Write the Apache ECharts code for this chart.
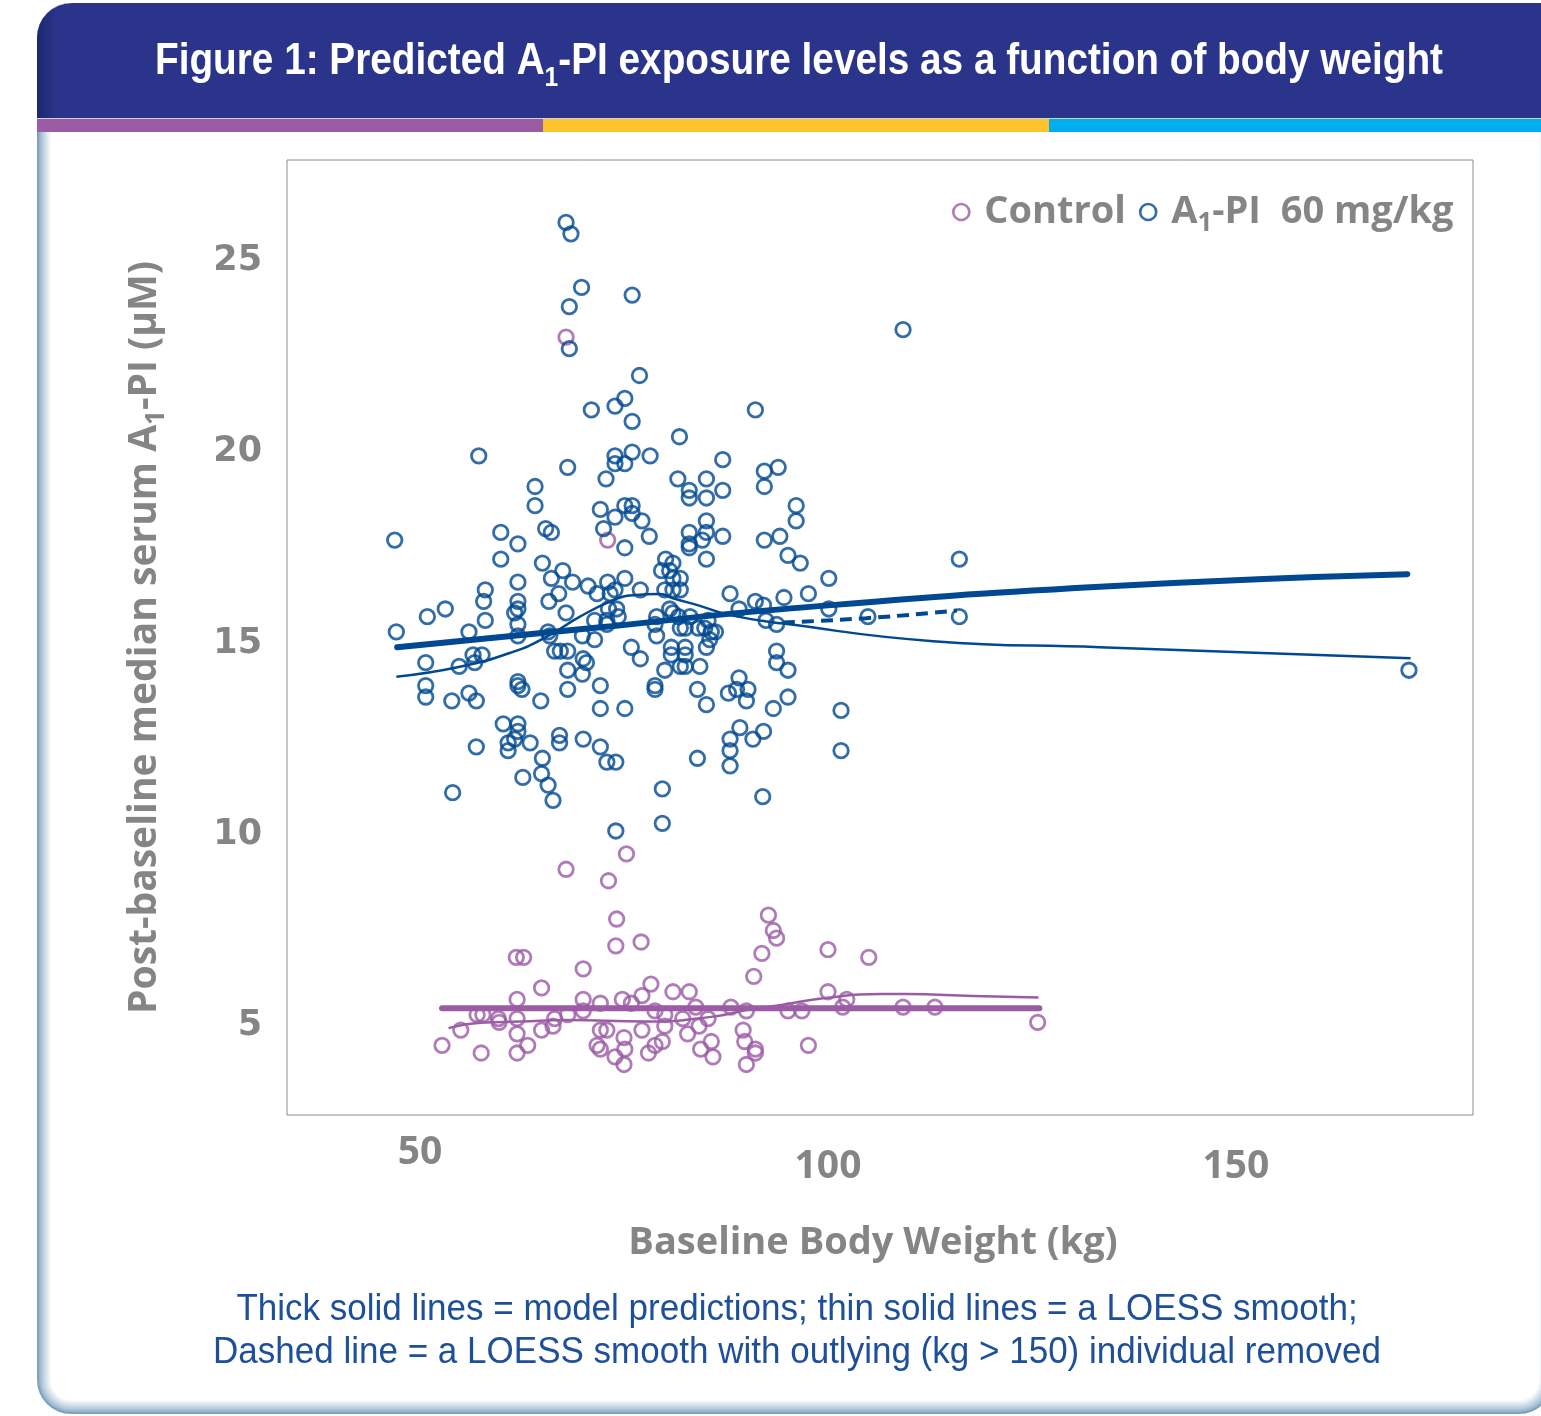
<!DOCTYPE html>
<html><head><meta charset="utf-8">
<script src="https://cdn.jsdelivr.net/npm/echarts@6/dist/echarts.min.js"></script>
<style>html,body{margin:0;padding:0;background:#fff;}#chart{width:1541px;height:1416px;}</style>
</head><body><div id="chart"></div>
<script>
// ---------- data (kg, µM) ----------
const xTicks = [50, 100, 150];
const yTicks = [5, 10, 15, 20, 25];

const controlPoints = [
[67.9,23.0],[73.0,17.7],[67.9,9.1],[75.3,9.5],[73.1,8.8],[74.1,7.8],[74.0,7.1],[77.1,7.2],[61.8,6.8],[62.7,6.8],
[70.0,6.5],[64.9,6.0],[78.3,6.1],[81.0,5.9],[83.0,5.9],[61.9,5.7],[70.0,5.7],[72.1,5.6],[74.8,5.7],[75.9,5.6],
[77.2,5.8],[78.8,5.4],[80.0,5.3],[83.8,5.5],[85.3,5.2],[88.1,5.5],[90.0,5.4],[57.0,5.3],[57.7,5.3],[59.6,5.2],
[59.7,5.1],[61.9,5.2],[66.5,5.2],[66.3,5.0],[68.1,5.3],[70.0,5.4],[55.0,4.9],[64.9,4.9],[61.9,4.8],[72.1,4.9],
[72.9,4.9],[77.2,4.9],[80.0,5.0],[82.2,5.2],[84.2,5.0],[89.6,4.9],[52.7,4.5],[57.5,4.3],[61.9,4.3],[63.2,4.5],
[71.7,4.5],[72.1,4.4],[75.0,4.7],[75.1,4.4],[73.9,4.2],[75.0,4.0],[78.0,4.3],[78.8,4.5],[79.7,4.6],[82.8,4.8],
[84.4,4.4],[85.7,4.6],[85.9,4.2],[89.8,4.6],[91.1,4.4],[91.1,4.3],[90.0,4.0],[92.7,7.9],[93.3,7.5],[93.7,7.3],
[91.9,6.9],[90.9,6.3],[100.0,7.0],[105.0,6.8],[100.0,5.9],[102.3,5.7],[101.8,5.5],[109.2,5.5],[113.1,5.5],[125.7,5.1],
[95.1,5.4],[96.8,5.4],[97.6,4.5]
];

const a1piPoints = [
[67.9,26.0],[68.5,25.7],[69.8,24.3],[76.0,24.1],[68.3,23.8],[68.3,22.7],[76.9,22.0],[75.1,21.4],[73.9,21.2],[71.0,21.1],
[91.1,21.1],[76.0,20.8],[81.8,20.4],[57.2,19.9],[68.1,19.6],[73.9,19.9],[76.0,20.0],[73.9,19.7],[75.1,19.7],[78.2,19.9],
[72.8,19.3],[81.6,19.3],[87.1,19.8],[85.1,19.3],[83.0,19.0],[83.0,18.8],[85.1,18.8],[87.1,19.0],[92.2,19.5],[92.2,19.1],
[93.9,19.6],[64.1,19.1],[64.1,18.6],[75.1,18.6],[76.0,18.6],[72.1,18.5],[73.9,18.3],[76.0,18.4],[77.2,18.2],[85.1,18.2],
[65.4,18.0],[66.1,17.9],[59.9,17.9],[46.9,17.7],[62.0,17.6],[72.5,18.0],[78.1,17.8],[83.0,17.9],[85.1,17.9],[84.6,17.7],
[87.1,17.8],[92.2,17.7],[94.1,17.8],[75.1,17.5],[83.0,17.6],[83.0,17.5],[85.1,17.2],[59.9,17.2],[65.0,17.1],[67.5,16.9],
[66.1,16.7],[68.7,16.6],[62.0,16.6],[70.6,16.5],[73.0,16.6],[75.1,16.7],[77.0,16.4],[80.1,17.2],[81.0,17.1],[79.6,16.9],
[80.6,16.9],[81.0,16.7],[81.9,16.7],[80.0,16.4],[81.0,16.4],[81.9,16.4],[88.0,16.3],[91.1,16.1],[92.1,16.0],[94.6,16.2],
[58.0,16.4],[57.8,16.1],[53.1,15.9],[50.9,15.7],[47.1,15.3],[58.0,15.6],[62.0,16.1],[62.0,15.9],[61.6,15.8],[65.8,16.1],
[67.0,16.3],[67.9,15.8],[71.7,16.3],[73.3,16.3],[73.9,16.4],[73.1,15.9],[74.1,15.9],[74.3,15.7],[72.9,15.6],[71.4,15.6],
[72.9,15.5],[56.0,15.3],[62.0,15.5],[62.0,15.2],[65.7,15.3],[65.9,15.2],[69.9,15.2],[71.4,15.1],[75.9,14.9],[77.0,14.6],
[79.0,15.7],[78.8,15.5],[79.0,15.2],[80.6,15.9],[81.0,15.8],[81.7,15.7],[83.1,15.7],[81.9,15.4],[82.5,15.4],[84.1,15.4],
[85.3,15.6],[84.9,15.4],[85.7,15.3],[86.2,15.3],[85.5,15.1],[85.1,14.9],[80.8,14.9],[80.8,14.7],[82.5,14.9],[82.5,14.7],
[81.9,14.4],[82.5,14.4],[84.3,14.4],[80.0,14.3],[93.7,14.8],[93.7,14.5],[56.5,14.7],[57.6,14.7],[56.7,14.5],[50.7,14.5],
[54.8,14.4],[50.7,13.9],[50.7,13.6],[53.9,13.5],[56.0,13.7],[56.9,13.5],[62.0,14.0],[62.0,13.9],[62.5,13.8],[64.8,13.5],
[66.5,14.8],[67.2,14.8],[68.1,14.8],[70.0,14.6],[70.4,14.5],[69.9,14.2],[68.1,14.3],[68.1,13.8],[72.1,13.9],[78.8,13.9],
[78.8,13.8],[84.0,13.8],[85.1,13.4],[87.8,13.7],[89.1,14.1],[90.2,13.8],[90.0,13.5],[93.3,13.3],[72.1,13.3],[75.1,13.3],
[60.2,12.9],[62.0,12.9],[62.0,12.7],[60.8,12.4],[60.8,12.2],[61.6,12.5],[63.5,12.4],[56.9,12.3],[67.1,12.6],[67.1,12.4],
[70.0,12.5],[72.1,12.3],[72.9,11.9],[74.0,11.9],[65.0,12.0],[64.9,11.6],[65.7,11.3],[62.6,11.5],[66.3,10.9],[54.0,11.1],
[79.7,11.2],[92.0,11.0],[88.0,12.5],[88.0,12.2],[88.0,11.8],[89.2,12.8],[90.8,12.5],[92.1,12.7],[84.0,12.0],[79.7,10.3],
[74.0,10.1],[89.1,15.9],[109.2,23.2],[96.1,18.6],[96.1,18.2],[95.1,17.3],[96.6,17.1],[100.1,16.7],[116.1,17.2],[97.6,16.3],
[100.1,15.9],[92.4,15.6],[93.7,15.5],[104.9,15.7],[116.1,15.7],[95.1,14.3],[88.8,13.8],[95.1,13.6],[101.6,13.25],[101.6,12.2],
[171.2,14.3]
];

const a1piModel = [[47.2,14.90],[72.1,15.42],[94.1,15.89],[133.3,16.48],[171.0,16.81]];
const a1piLoess = [[47.1,14.13],[54.9,14.39],[61.4,14.78],[65.5,15.17],[69.6,15.70],[73.7,16.13],[76.1,16.26],[79.4,16.29],
  [81.0,16.18],[84.3,15.98],[88.0,15.74],[94.5,15.52],[112.9,15.06],[133.3,14.90],[171.4,14.61]];
const a1piLoessNoOutlier = [[94.5,15.55],[104.7,15.66],[115.8,15.86]];
const controlModel = [[52.7,5.47],[125.9,5.47]];
const controlLoess = [[53.5,4.95],[57.4,5.09],[62.3,5.12],[68.0,5.16],[77.8,5.12],[85.9,5.25],[90.0,5.42],[94.1,5.55],
  [99.4,5.73],[106.4,5.84],[109.6,5.84],[117.8,5.79],[125.8,5.75]];

// ---------- styling ----------
const BLUE = '#004891', PURPLE = '#9b5ba5', GRAY = '#858585', NAVY = '#29348a', CAPTION = '#1d4f9a';

const mctx = document.createElement('canvas').getContext('2d');
function textW(txt, font) { mctx.font = font; return mctx.measureText(txt).width; }

const TITLE_FONT = "'Liberation Sans', Arial, sans-serif";
const titleMain = 'Figure 1: Predicted A-PI exposure levels as a function of body weight';
const titleW = textW(titleMain, 'bold 44px ' + TITLE_FONT) + textW('1', 'bold 28px ' + TITLE_FONT);
const titleScale = 1288 / titleW;

const cap1 = 'Thick solid lines = model predictions; thin solid lines = a LOESS smooth;';
const cap2 = 'Dashed line = a LOESS smooth with outlying (kg > 150) individual removed';
const capScale = 1168 / textW(cap2, '37px ' + TITLE_FONT);

// card frame: stacked rounded rects give a soft edge from blue-grey to white
const cardLayers = [];
const EDGE = [122, 160, 190], LAYERS = 9, STEP = 1.7;
for (let i = 0; i < LAYERS; i++) {
  const t = Math.pow(i / (LAYERS - 1), 0.75);
  const c = EDGE.map(v => Math.round(v + (255 - v) * t));
  const inset = i * STEP;
  cardLayers.push({type: 'rect', z: -10, z2: i, silent: true,
    shape: {x: 37 + inset, y: 3, width: 1516 - 2 * inset, height: 1411 - inset, r: Math.max(34 - inset, 14)},
    style: {fill: 'rgb(' + c.join(',') + ')'}});
}

const chart = echarts.init(document.getElementById('chart'), null, {renderer: 'canvas'});
const option = {
  animation: false,
  backgroundColor: '#ffffff',
  graphic: cardLayers.concat([
    {type: 'rect', z: -8, silent: true, shape: {x: 37, y: 3, width: 1540, height: 115, r: [35, 35, 0, 0]},
      style: {fill: {type: 'linear', x: 0, y: 0, x2: 1, y2: 0, colorStops: [
        {offset: 0, color: '#1d2770'}, {offset: 0.012, color: NAVY}, {offset: 1, color: NAVY}]}}},
    {type: 'rect', z: -8, silent: true, shape: {x: 37, y: 118, width: 1520, height: 1.3}, style: {fill: '#cfd3df'}},
    {type: 'rect', z: -8, silent: true, shape: {x: 37, y: 119, width: 506, height: 13}, style: {fill: '#9b5ba5'}},
    {type: 'rect', z: -8, silent: true, shape: {x: 543, y: 119, width: 506, height: 13}, style: {fill: '#fec32c'}},
    {type: 'rect', z: -8, silent: true, shape: {x: 1049, y: 119, width: 510, height: 13}, style: {fill: '#00aeef'}},
    {type: 'text', z: 10, silent: true, x: 799, y: 62, scaleX: titleScale,
      style: {text: 'Figure 1: Predicted A{sub|1}-PI exposure levels as a function of body weight',
        fill: '#ffffff', fontFamily: TITLE_FONT, fontWeight: 'bold', fontSize: 44, align: 'center', verticalAlign: 'middle',
        rich: {sub: {fill: '#ffffff', fontFamily: TITLE_FONT, fontWeight: 'bold', fontSize: 28, padding: [32, 0, 0, 0]}}}},
    {type: 'text', z: 10, silent: true, x: 797, y: 1331, scaleX: capScale,
      style: {text: cap1 + '\n' + cap2, fill: CAPTION, fontFamily: TITLE_FONT, fontSize: 37, lineHeight: 43.3,
        align: 'center', verticalAlign: 'middle'}}
  ]),
  grid: {left: 287, top: 160, width: 1186, height: 955, show: true, borderColor: '#8c8c8c', borderWidth: 1,
    backgroundColor: 'transparent', containLabel: false, outerBoundsMode: 'none'},
  legend: {
    data: [{name: 'Control', icon: 'circle'}, {name: 'A1-PI  60 mg/kg', icon: 'circle'}],
    left: 952, top: 193, padding: 0, itemWidth: 16, itemHeight: 16, itemGap: 13,
    itemStyle: {color: 'transparent', borderWidth: 2.6},
    formatter: n => n === 'Control' ? 'Control' : 'A{sub|1}-PI  60 mg/kg',
    textStyle: {color: GRAY, fontFamily: 'Open Sans', fontWeight: 'bold', fontSize: 38, padding: [0, 0, 0, 10],
      rich: {sub: {color: GRAY, fontFamily: 'Open Sans', fontWeight: 'bold', fontSize: 26, padding: [24, 0, 0, 0]}}},
    selectedMode: false
  },
  tooltip: {show: false},
  xAxis: {
    type: 'value', min: 33.7, max: 179.05,
    axisLine: {show: false}, axisTick: {show: false}, splitLine: {show: false},
    axisLabel: {customValues: xTicks, margin: 18, color: GRAY, fontFamily: 'Open Sans', fontWeight: 'bold', fontSize: 39,
      formatter: v => v === 50 ? '{a|' + v + '}' : '{b|' + v + '}',
      rich: {
        a: {color: GRAY, fontFamily: 'Open Sans', fontWeight: 'bold', fontSize: 39},
        b: {color: GRAY, fontFamily: 'Open Sans', fontWeight: 'bold', fontSize: 39, padding: [14, 0, 0, 0]}
      }},
    name: 'Baseline Body Weight (kg)', nameLocation: 'middle', nameGap: 109,
    nameTextStyle: {color: GRAY, fontFamily: 'Open Sans', fontWeight: 'bold', fontSize: 38, padding: [0, 14, 0, 0]}
  },
  yAxis: {
    type: 'value', min: 2.68, max: 27.63,
    axisLine: {show: false}, axisTick: {show: false}, splitLine: {show: false},
    axisLabel: {customValues: yTicks, margin: 25, color: GRAY, fontFamily: 'DejaVu Sans', fontWeight: 'bold', fontSize: 35},
    name: 'Post-baseline median serum A{sub|1}-PI (µM)', nameLocation: 'middle', nameRotate: 90, nameGap: 117,
    nameTextStyle: {color: GRAY, fontFamily: 'Open Sans', fontWeight: 'bold', fontSize: 39,
      rich: {sub: {color: GRAY, fontFamily: 'Open Sans', fontWeight: 'bold', fontSize: 26, padding: [24, 0, 0, 0]}}}
  },
  series: [
    {name: 'Control', type: 'scatter', data: controlPoints, symbol: 'circle', symbolSize: 14.5, z: 3, silent: true,
      itemStyle: {color: 'transparent', borderColor: PURPLE, borderWidth: 2.8}},
    {name: 'A1-PI  60 mg/kg', type: 'scatter', data: a1piPoints, symbol: 'circle', symbolSize: 14.5, z: 3, silent: true,
      itemStyle: {color: 'transparent', borderColor: BLUE, borderWidth: 2.8}},
    {type: 'line', data: a1piModel, smooth: true, showSymbol: false, z: 5, silent: true,
      lineStyle: {color: BLUE, width: 6, cap: 'round'}},
    {type: 'line', data: a1piLoess, smooth: true, showSymbol: false, z: 5, silent: true,
      lineStyle: {color: BLUE, width: 2.5}},
    {type: 'line', data: a1piLoessNoOutlier, smooth: true, showSymbol: false, z: 5, silent: true,
      lineStyle: {color: BLUE, width: 4, type: [12, 7]}},
    {type: 'line', data: controlModel, showSymbol: false, z: 5, silent: true,
      lineStyle: {color: PURPLE, width: 6, cap: 'round'}},
    {type: 'line', data: controlLoess, smooth: true, showSymbol: false, z: 5, silent: true,
      lineStyle: {color: PURPLE, width: 2.5}}
  ]
};
chart.setOption(option);
</script></body></html>
